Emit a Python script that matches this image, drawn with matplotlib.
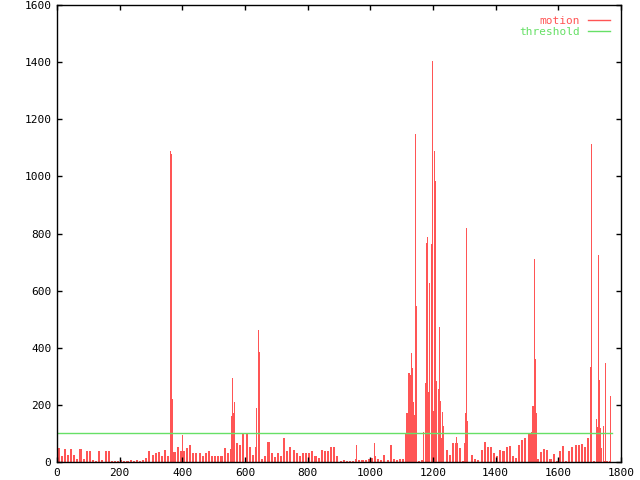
import matplotlib
matplotlib.use("Agg")
import matplotlib.pyplot as plt
from matplotlib.lines import Line2D
import numpy as np

# ---- data ----
# background motion level (peak within each 10-frame bin), starting at frame 0
base_step = 10
base_values = [
    49, 21, 44, 25, 46, 25, 10, 44, 12, 40,
    40, 8, 5, 40, 6, 40, 40, 3, 3, 3,
    8, 3, 3, 6, 3, 6, 3, 8, 15, 40,
    24, 30, 35, 20, 42, 20, 20, 35, 54, 40,
    40, 48, 59, 30, 30, 30, 22, 30, 40, 22,
    22, 22, 20, 48, 30, 44, 40, 66, 61, 100,
    97, 54, 24, 54, 40, 10, 20, 71, 30, 18,
    30, 20, 84, 37, 54, 42, 30, 22, 30, 30,
    30, 37, 22, 15, 42, 40, 40, 54, 51, 20,
    5, 8, 5, 5, 5, 10, 6, 8, 8, 12,
    15, 20, 10, 6, 24, 6, 59, 10, 6, 10,
    12, 100, 0, 0, 0, 5, 8, 0, 0, 0,
    0, 0, 0, 0, 42, 25, 65, 65, 50, 5,
    0, 0, 25, 10, 8, 42, 69, 53, 53, 30,
    20, 42, 40, 53, 55, 20, 15, 60, 77, 84,
    100, 0, 0, 10, 36, 47, 42, 12, 29, 5,
    39, 56, 3, 39, 51, 58, 58, 63, 53, 84,
    0, 3, 0, 0, 3, 3, 3,
]

# individual peaks: frame and motion value
peak_frames = [
    362, 365, 368, 400, 556, 559, 562, 565, 636, 643, 646, 955, 1014,
    1115, 1118, 1121, 1124, 1127, 1130, 1134, 1137, 1140, 1143, 1146,
    1171, 1175, 1178, 1181, 1184, 1187, 1190, 1194, 1197, 1200, 1203,
    1206, 1209, 1212, 1216, 1219, 1222, 1225, 1228, 1231, 1234, 1275,
    1301, 1304, 1307, 1310,
    1511, 1514, 1517, 1520, 1523, 1526, 1529,
    1697, 1702, 1705, 1721, 1724, 1728, 1731, 1734, 1737,
    1745, 1749, 1752, 1765, 1768,
]
peak_values = [
    1090, 1080, 220, 95, 160, 295, 170, 210, 188, 462, 385, 60, 68,
    170, 170, 311, 311, 305, 381, 329, 210, 165, 1148, 546,
    105, 276, 767, 788, 658, 245, 627, 763, 1404, 35, 178,
    1089, 984, 283, 255, 206, 473, 213, 84, 175, 126, 87,
    66, 171, 818, 143,
    100, 105, 197, 197, 711, 361, 173,
    84, 334, 1113, 152, 121, 725, 287, 120, 50,
    126, 347, 80, 103, 231,
]

threshold_value = 100
n_frames = 1772

x_ticks = [0, 200, 400, 600, 800, 1000, 1200, 1400, 1600, 1800]
y_ticks = [0, 200, 400, 600, 800, 1000, 1200, 1400, 1600]

# ---- styling ----
RED = "#ff5555"
GREEN = "#66e066"
plt.rcParams["font.family"] = ["DejaVu Sans Mono"]
plt.rcParams["font.size"] = 8

fig = plt.figure(figsize=(6.4, 4.8), dpi=100)
ax = fig.add_axes([57 / 640, 18 / 480, 564 / 640, 457 / 480])

base_x = np.arange(len(base_values)) * base_step + base_step / 2
ax.bar(base_x, base_values, width=6.5, align="center", color=RED,
       linewidth=0, antialiased=False, zorder=1)
ax.bar(peak_frames, peak_values, width=3.2, align="center", color=RED,
       linewidth=0, antialiased=False, zorder=1)

ax.plot([0, n_frames], [threshold_value, threshold_value], color=GREEN,
        linewidth=1, zorder=2)

ax.set_xlim(0, 1800)
ax.set_ylim(0, 1600)
ax.set_xticks(x_ticks)
ax.set_yticks(y_ticks)
ax.tick_params(direction="in", top=True, right=True, length=3.6, width=1,
               pad=4, labelsize=8)
for s in ax.spines.values():
    s.set_linewidth(1)

handles = [Line2D([], [], color=RED, linewidth=1),
           Line2D([], [], color=GREEN, linewidth=1)]
ax.legend(handles, ["motion", "threshold"], loc="upper right",
          bbox_to_anchor=(0.9805, 0.976), frameon=False, markerfirst=False,
          labelcolor="linecolor", borderaxespad=0, borderpad=0,
          labelspacing=0.05, handlelength=2.0, handletextpad=0.7,
          prop={"family": "DejaVu Sans Mono", "size": 8})

fig.savefig("out.png", dpi=100)
